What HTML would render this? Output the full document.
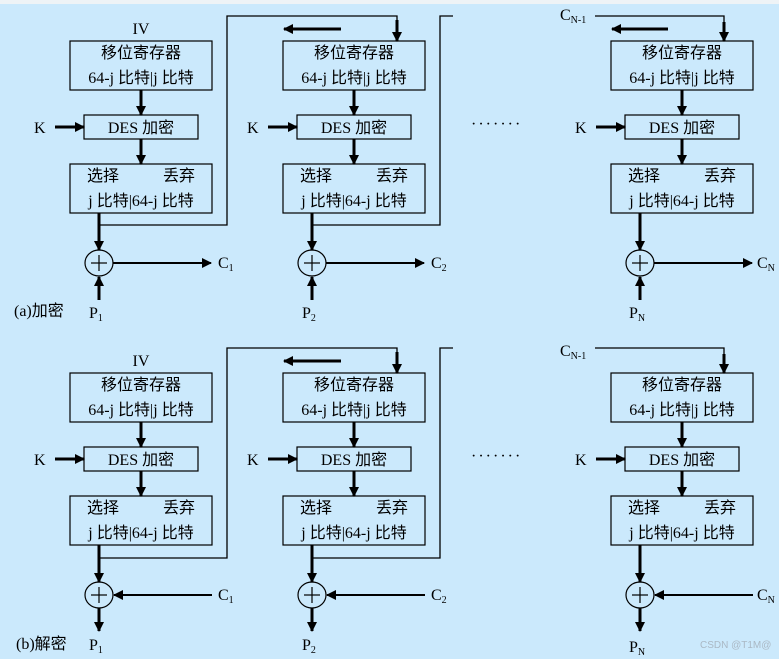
<!DOCTYPE html>
<html><head><meta charset="utf-8">
<style>
html,body{margin:0;padding:0;background:#cbe9fc;}
svg{display:block;}
text{font-family:"Liberation Serif","Noto Sans CJK SC",serif;font-size:16px;fill:#000;}
.cj{font-family:"Liberation Serif","Noto Sans CJK SC",sans-serif;}
</style></head>
<body>
<svg width="779" height="659" viewBox="0 0 779 659" xmlns="http://www.w3.org/2000/svg">
<defs>
<marker id="ah" markerWidth="10" markerHeight="10" refX="9" refY="5" orient="auto" markerUnits="userSpaceOnUse">
<path d="M0,0 L10,5 L0,10 z" fill="#000"/>
</marker>
<g id="col">
  <rect x="0" y="41" width="142" height="49" fill="none" stroke="#000" stroke-width="1.2"/>
  <text x="71" y="58" text-anchor="middle" class="cj">移位寄存器</text>
  <text x="71" y="83" text-anchor="middle" class="cj">64-j 比特|j 比特</text>
  <line x1="71" y1="90" x2="71" y2="115" stroke="#000" stroke-width="3" marker-end="url(#ah)"/>
  <rect x="14" y="115" width="114" height="24" fill="none" stroke="#000" stroke-width="1.2"/>
  <text x="71" y="133" text-anchor="middle" class="cj">DES 加密</text>
  <line x1="71" y1="139" x2="71" y2="164" stroke="#000" stroke-width="3" marker-end="url(#ah)"/>
  <rect x="0" y="164" width="142" height="49" fill="none" stroke="#000" stroke-width="1.2"/>
  <text x="17" y="181" class="cj">选择</text>
  <text x="93" y="181" class="cj">丢弃</text>
  <text x="71" y="206" text-anchor="middle" class="cj">j 比特|64-j 比特</text>
  <text x="-36" y="133">K</text>
  <line x1="-15" y1="127" x2="14" y2="127" stroke="#000" stroke-width="3" marker-end="url(#ah)"/>
  <line x1="29" y1="213" x2="29" y2="250" stroke="#000" stroke-width="3" marker-end="url(#ah)"/>
  <ellipse cx="29" cy="263" rx="14" ry="13" fill="none" stroke="#000" stroke-width="1.2"/>
  <line x1="21" y1="263" x2="37" y2="263" stroke="#000" stroke-width="1.2"/>
  <line x1="29" y1="255" x2="29" y2="271" stroke="#000" stroke-width="1.2"/>
</g>
</defs>
<rect x="0" y="0" width="779" height="4" fill="#eef3f6"/>

<!-- ===== Encryption ===== -->
<g transform="translate(70,0)">
  <use href="#col"/>
  <text x="71" y="34" text-anchor="middle">IV</text>
  <line x1="43" y1="263" x2="141" y2="263" stroke="#000" stroke-width="2" marker-end="url(#ah)"/>
  <text x="148" y="268">C<tspan font-size="10" dy="3">1</tspan></text>
  <line x1="29" y1="300" x2="29" y2="277" stroke="#000" stroke-width="3" marker-end="url(#ah)"/>
  <text x="19" y="318">P<tspan font-size="10" dy="3">1</tspan></text>
  <polyline points="29,225 157,225 157,16 327,16 327,40" fill="none" stroke="#000" stroke-width="1.3"/>
  <line x1="327" y1="20" x2="327" y2="41" stroke="#000" stroke-width="3" marker-end="url(#ah)"/>
</g>
<text x="14" y="316" class="cj">(a)加密</text>

<g transform="translate(283,0)">
  <use href="#col"/>
  <line x1="58" y1="29" x2="1" y2="29" stroke="#000" stroke-width="3" marker-end="url(#ah)"/>
  <line x1="43" y1="263" x2="141" y2="263" stroke="#000" stroke-width="2" marker-end="url(#ah)"/>
  <text x="148" y="268">C<tspan font-size="10" dy="3">2</tspan></text>
  <line x1="29" y1="300" x2="29" y2="277" stroke="#000" stroke-width="3" marker-end="url(#ah)"/>
  <text x="19" y="318">P<tspan font-size="10" dy="3">2</tspan></text>
  <polyline points="29,225 157,225 157,16 170,16" fill="none" stroke="#000" stroke-width="1.3"/>
</g>

<text x="471" y="129" letter-spacing="2">·······</text>

<g transform="translate(611,0)">
  <use href="#col"/>
  <text x="-51" y="20">C<tspan font-size="10" dy="3">N-1</tspan></text>
  <polyline points="-16,16 113,16 113,30" fill="none" stroke="#000" stroke-width="1.3"/>
  <line x1="113" y1="22" x2="113" y2="41" stroke="#000" stroke-width="3" marker-end="url(#ah)"/>
  <line x1="57" y1="29" x2="1" y2="29" stroke="#000" stroke-width="3" marker-end="url(#ah)"/>
  <line x1="43" y1="263" x2="141" y2="263" stroke="#000" stroke-width="2" marker-end="url(#ah)"/>
  <text x="146" y="268">C<tspan font-size="10" dy="3">N</tspan></text>
  <line x1="29" y1="300" x2="29" y2="277" stroke="#000" stroke-width="3" marker-end="url(#ah)"/>
  <text x="18" y="318">P<tspan font-size="10" dy="3">N</tspan></text>
</g>

<!-- ===== Decryption ===== -->
<g transform="translate(70,332)">
  <use href="#col"/>
  <text x="71" y="34" text-anchor="middle">IV</text>
  <line x1="142" y1="263" x2="44" y2="263" stroke="#000" stroke-width="2" marker-end="url(#ah)"/>
  <text x="148" y="268">C<tspan font-size="10" dy="3">1</tspan></text>
  <line x1="29" y1="276" x2="29" y2="299" stroke="#000" stroke-width="3" marker-end="url(#ah)"/>
  <text x="19" y="318">P<tspan font-size="10" dy="3">1</tspan></text>
  <polyline points="29,226 157,226 157,16 327,16 327,40" fill="none" stroke="#000" stroke-width="1.3"/>
  <line x1="327" y1="20" x2="327" y2="41" stroke="#000" stroke-width="3" marker-end="url(#ah)"/>
</g>
<text x="16" y="649" class="cj">(b)解密</text>

<g transform="translate(283,332)">
  <use href="#col"/>
  <line x1="58" y1="29" x2="1" y2="29" stroke="#000" stroke-width="3" marker-end="url(#ah)"/>
  <line x1="142" y1="263" x2="44" y2="263" stroke="#000" stroke-width="2" marker-end="url(#ah)"/>
  <text x="148" y="268">C<tspan font-size="10" dy="3">2</tspan></text>
  <line x1="29" y1="276" x2="29" y2="299" stroke="#000" stroke-width="3" marker-end="url(#ah)"/>
  <text x="19" y="318">P<tspan font-size="10" dy="3">2</tspan></text>
  <polyline points="29,226 157,226 157,16 170,16" fill="none" stroke="#000" stroke-width="1.3"/>
</g>

<text x="471" y="461" letter-spacing="2">·······</text>

<g transform="translate(611,332)">
  <use href="#col"/>
  <text x="-51" y="24">C<tspan font-size="10" dy="3">N-1</tspan></text>
  <polyline points="-16,16 113,16 113,30" fill="none" stroke="#000" stroke-width="1.3"/>
  <line x1="113" y1="22" x2="113" y2="41" stroke="#000" stroke-width="3" marker-end="url(#ah)"/>
  <line x1="142" y1="263" x2="44" y2="263" stroke="#000" stroke-width="2" marker-end="url(#ah)"/>
  <text x="146" y="268">C<tspan font-size="10" dy="3">N</tspan></text>
  <line x1="29" y1="276" x2="29" y2="299" stroke="#000" stroke-width="3" marker-end="url(#ah)"/>
  <text x="18" y="320">P<tspan font-size="10" dy="3">N</tspan></text>
</g>

<text x="700" y="648" style="font-family:'Liberation Sans',sans-serif;font-size:10px;fill:#aab8c4;">CSDN @T1M@</text>
</svg>
</body></html>
